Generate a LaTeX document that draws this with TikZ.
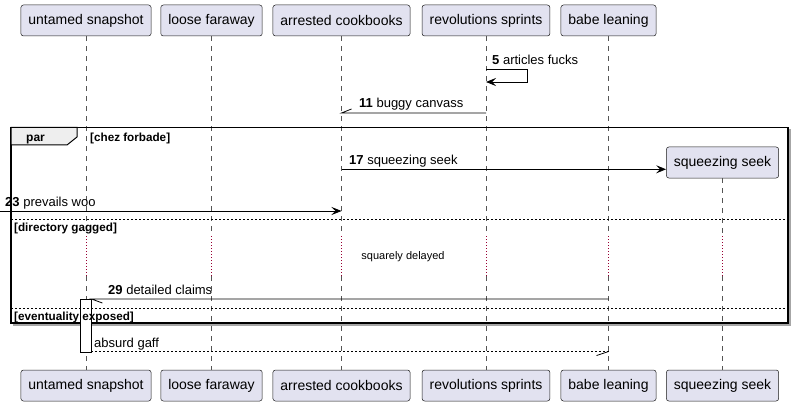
\documentclass[tikz,border=0pt]{standalone}
\usepackage{fontspec}
\setmainfont{Liberation Sans}
\usetikzlibrary{arrows.meta,calc}
\definecolor{partfill}{HTML}{E2E2F0}
\definecolor{partline}{HTML}{181818}
\definecolor{lifecol}{HTML}{555555}
\definecolor{delayred}{HTML}{990033}
\definecolor{tabfill}{HTML}{EEEEEE}
\begin{document}
\begin{tikzpicture}[x=1pt,y=-1pt,
 participant/.style={draw=partline, fill=partfill, rounded corners=2.5pt, line width=0.5pt, minimum height=31pt, inner xsep=7.5pt, inner ysep=0pt, font=\fontsize{14}{16}\selectfont},
 lifedash/.style={draw=lifecol, line width=0.5pt, dash pattern=on 5pt off 5pt},
 delaydot/.style={draw=delayred, line width=0.8pt, dash pattern=on 1pt off 2pt},
 msg/.style={line width=0.8pt, draw=black},
 tip/.style={-{Stealth[length=10pt,width=8pt,inset=4pt]}},
 msglabel/.style={anchor=base west, inner sep=0pt, font=\fontsize{13}{15}\selectfont},
 framelabel/.style={anchor=base west, inner sep=0pt, font=\bfseries\fontsize{11.7}{13}\selectfont},
]
\useasboundingbox (0,0) rectangle (794,406);
% participants
\node[participant] (t1) at (86,20.5) {untamed snapshot};
\node[participant] (t2) at (211.5,20.5) {loose faraway};
\node[participant] (t3) at (341.5,20.5) {arrested cookbooks};
\node[participant] (t4) at (486,20.5) {revolutions sprints};
\node[participant] (t5) at (608.5,20.5) {babe leaning};
\node[participant] (t6) at (722.5,162.5) {squeezing seek};
\node[participant] (b1) at (86,385.5) {untamed snapshot};
\node[participant] (b2) at (211.5,385.5) {loose faraway};
\node[participant] (b3) at (341.5,385.5) {arrested cookbooks};
\node[participant] (b4) at (486,385.5) {revolutions sprints};
\node[participant] (b5) at (608.5,385.5) {babe leaning};
\node[participant] (b6) at (722.5,385.5) {squeezing seek};
% row coordinates
\coordinate (dtop) at (0,236);
\coordinate (dbot) at (0,276);
\coordinate (r5) at (0,69);
\coordinate (r5b) at (0,82);
\coordinate (r11) at (0,113);
\coordinate (r17) at (0,169.3);
\coordinate (r23) at (0,211);
\coordinate (r29) at (0,299);
\coordinate (r35) at (0,351.5);
\coordinate (src23) at (0,211);
% lifelines
\foreach \i in {1,...,6}{
  \draw[lifedash] (t\i.south) -- (t\i.south |- dtop);
  \draw[delaydot] (t\i.south |- dtop) -- (t\i.south |- dbot);
  \draw[lifedash] (t\i.south |- dbot) -- (b\i.north);
}
% message 5 (self)
\draw[msg, tip] (t4 |- r5) -- ++(41,0) -- ++(0,13) -- (t4 |- r5b);
\node[msglabel] (l5) at (492,64.5) {\textbf{5} articles fucks};
% message 11
\draw[msg] (t4 |- r11) -- (t3 |- r11) -- ++(10,-4);
\node[msglabel] (l11) at (359,108) {\textbf{11} buggy canvass};
% frame
\draw[gray!70, line width=1.2pt] (790,129.5) -- (790,325) -- (13,325);
\draw[line width=1.5pt] (11,127.5) rectangle (788,323);
\draw[fill=tabfill, line width=1pt] (11,127.5) -- (77,127.5) -- (77,137) -- (67,145) -- (11,145) -- cycle;
\node[anchor=base west, inner sep=0pt, font=\bfseries\fontsize{12}{14}\selectfont] (parlbl) at (26,141.5) {par};
\node[framelabel] (g1) at (90,141.5) {[chez forbade]};
% message 17
\draw[msg, tip] (t3 |- r17) -- (t6.west |- r17);
\node[msglabel] (l17) at (349,164.8) {\textbf{17} squeezing seek};
% message 23
\draw[msg, tip] (src23) -- (t3 |- r23);
\node[msglabel] (l23) at (5,206.5) {\textbf{23} prevails woo};
% separator 1
\draw[line width=0.8pt, dash pattern=on 2pt off 2pt] (11,219) -- (788,219);
\node[framelabel] (g2) at (14,231) {[directory gagged]};
% delay
\node[inner sep=0pt, font=\fontsize{11}{13}\selectfont] (delay) at (403,257) {squarely delayed};
% activation
\node[draw, fill=white, line width=0.8pt, minimum width=11pt, minimum height=52.5pt, anchor=north, inner sep=0pt] (act) at (85.5,299) {};
% message 29
\draw[msg] (t5 |- r29) -- (act.east |- r29) -- ++(11,4);
\node[msglabel] (l29) at (108,294.5) {\textbf{29} detailed claims};
% separator 2
\draw[line width=0.8pt, dash pattern=on 2pt off 2pt] (11,308) -- (788,308);
\node[framelabel] (g3) at (14,320) {[eventuality exposed]};
% return
\draw[msg, dash pattern=on 2pt off 2pt] (act.east |- r35) -- (t5 |- r35);
\draw[msg] (t5 |- r35) -- ++(-12,4);
\node[msglabel] (lg) at (94,347) {absurd gaff};
\end{tikzpicture}
\end{document}
